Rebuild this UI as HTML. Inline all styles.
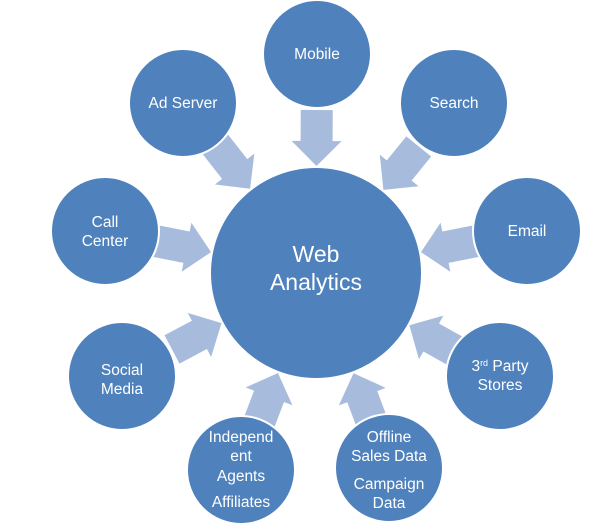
<!DOCTYPE html>
<html><head><meta charset="utf-8"><style>
html,body{margin:0;padding:0;background:#fff;width:608px;height:526px;overflow:hidden}
svg{display:block}
text{font-family:"Liberation Sans",sans-serif;fill:#fff;text-anchor:middle}
</style></head><body>
<svg id="s" width="608" height="526" viewBox="0 0 608 526">
<g id="arrows"></g>
<circle cx="316" cy="273" r="106" fill="#4f81bd" stroke="#fff" stroke-width="2"/>
<g id="nodes"></g>
<text x="316" y="262" font-size="23">Web</text>
<text x="316" y="290" font-size="23">Analytics</text>
<g font-size="15.5">
<text x="317" y="59">Mobile</text>
<text x="183" y="108">Ad Server</text>
<text x="454" y="108">Search</text>
<text x="105" y="227">Call</text>
<text x="105" y="246">Center</text>
<text x="527" y="236">Email</text>
<text x="122" y="375">Social</text>
<text x="122" y="394">Media</text>
<text x="500" y="371">3<tspan font-size="9" dy="-5">rd</tspan><tspan dy="5"> Party</tspan></text>
<text x="500" y="390">Stores</text>
<text x="241" y="442">Independ</text>
<text x="241" y="461">ent</text>
<text x="241" y="481">Agents</text>
<text x="241" y="507">Affiliates</text>
<text x="389" y="442">Offline</text>
<text x="389" y="461">Sales Data</text>
<text x="389" y="489">Campaign</text>
<text x="389" y="508">Data</text>
</g>
</svg>
<script>
var ns="http://www.w3.org/2000/svg",cx=316,cy=273;
var pts=[[317,54],[183,103],[454,103],[105,231],[527,231],[122,376],[500,376],[241,470],[389,468]];
var A=document.getElementById("arrows"),N=document.getElementById("nodes");
pts.forEach(function(p){
 var dx=p[0]-cx,dy=p[1]-cy,d=Math.hypot(dx,dy),ux=dx/d,uy=dy/d;
 var th=Math.atan2(ux,-uy)*180/Math.PI;
 var pg=document.createElementNS(ns,"polygon");
 pg.setAttribute("points","-16,0 16,0 16,31 25,31 0,56 -25,31 -16,31");
 pg.setAttribute("fill","#a7bcdc");
 pg.setAttribute("transform","translate("+(cx+163*ux)+","+(cy+163*uy)+") rotate("+th+")");
 A.appendChild(pg);
 var c=document.createElementNS(ns,"circle");
 c.setAttribute("cx",p[0]);c.setAttribute("cy",p[1]);c.setAttribute("r",54);
 c.setAttribute("fill","#4f81bd");c.setAttribute("stroke","#fff");c.setAttribute("stroke-width","2");
 N.appendChild(c);
});
</script>
</body></html>
